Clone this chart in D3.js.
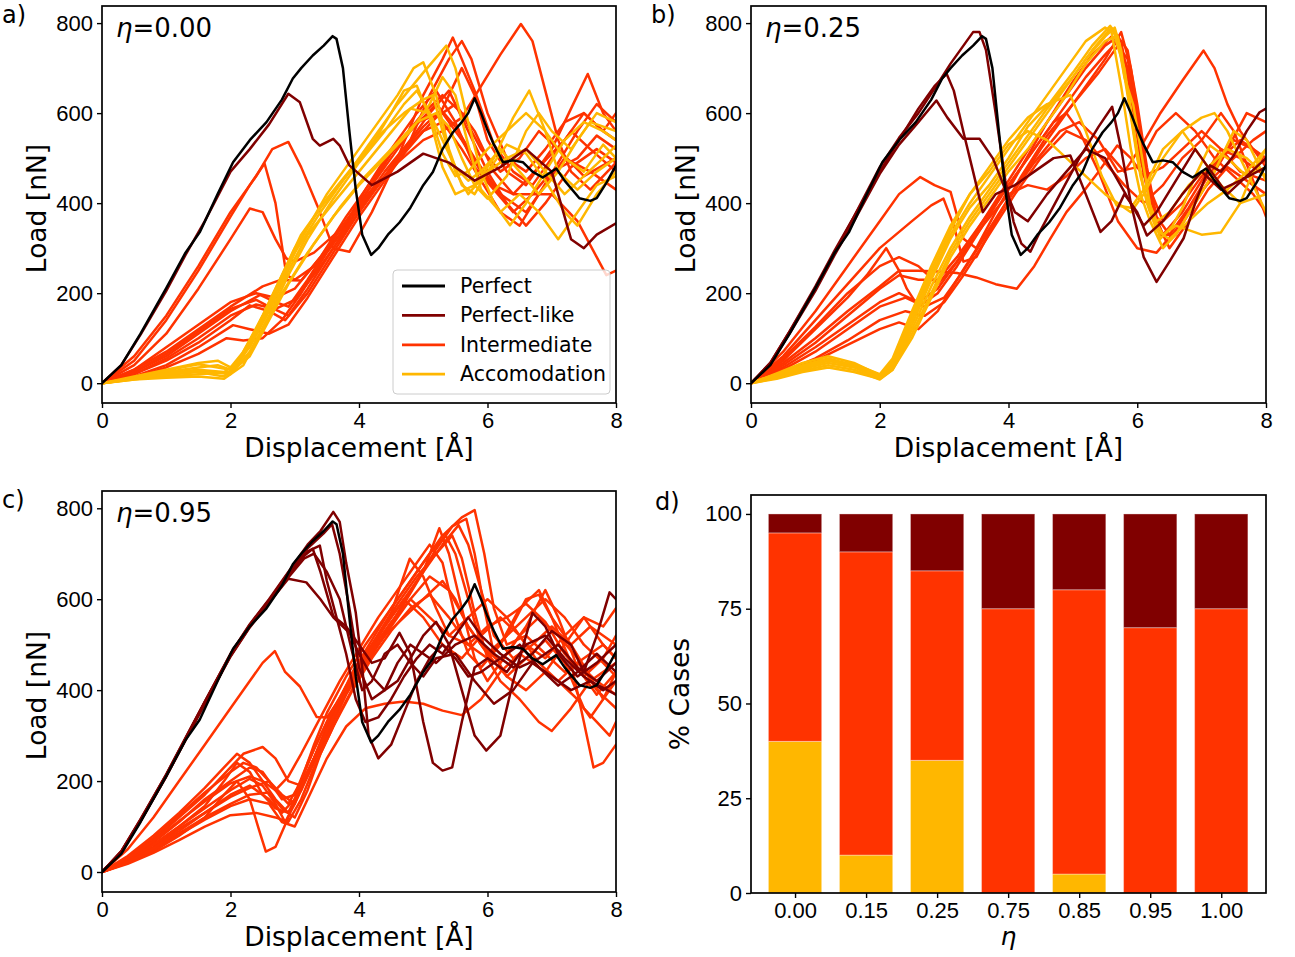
<!DOCTYPE html>
<html lang="en">
<head>
<meta charset="UTF-8">
<title>Load vs displacement, η panels</title>
<script src="https://d3js.org/d3.v7.min.js"></script>
<style>
  body { margin: 0; background: #fff; }
  svg { font-family: "DejaVu Sans", sans-serif; }
  .tick text { font-size: 22px; fill: #000; }
  .tick line { stroke: #000; stroke-width: 1.4; }
  .domain { display: none; }
</style>
</head>
<body>
<script>
// ---- data ----
const dispTicks = [0, 2, 4, 6, 8];
const loadTicks = [0, 200, 400, 600, 800];
const legendNames = ["Perfect", "Perfect-like", "Intermediate", "Accomodation"];
const colors = ["#000000", "#800000", "#ff3300", "#ffb700"];

// reference (perfect) curve, same in all line panels
const perfect = [[0,0],[0.3,40],[0.6,110],[1.0,211],[1.3,290],[1.52,335],[1.8,420],[2.04,491],[2.3,540],[2.56,580],[2.8,630],[2.97,677],[3.1,700],[3.28,728],[3.45,750],[3.59,771],[3.65,765],[3.75,700],[3.85,560],[3.95,430],[4.05,330],[4.19,285],[4.3,300],[4.45,330],[4.63,357],[4.8,390],[5.0,440],[5.15,469],[5.3,520],[5.46,557],[5.6,580],[5.7,600],[5.8,633],[5.9,600],[5.99,566],[6.1,530],[6.24,491],[6.4,495],[6.55,491],[6.7,470],[6.86,457],[7.07,477],[7.2,450],[7.43,411],[7.6,405],[7.7,411],[7.85,445],[8.0,484]];

// panel a) eta = 0.00
const aPerfectLike = [
  [[0,0],[0.3,40],[0.6,108],[1.0,205],[1.3,285],[1.6,360],[2.0,470],[2.3,520],[2.6,575],[2.9,643],[3.08,624],[3.28,543],[3.39,528],[3.6,543],[3.7,528],[3.85,484],[4.2,440],[4.6,470],[5.0,510],[5.4,490],[5.8,450],[6.2,480],[6.6,520],[7.0,470],[7.3,320],[7.5,300],[7.7,330],[8.0,355]]
];
const aIntermediate = [
  [[0,0],[0.5,60],[1.0,150],[1.5,260],[2.0,380],[2.4,460],[2.65,520],[2.9,536],[3.1,480],[3.35,395],[3.6,300],[3.85,292],[4.2,380],[4.6,500],[5.0,640],[5.3,720],[5.46,768],[5.6,720],[5.8,650],[6.1,530],[6.4,470],[6.7,440],[7.0,500],[7.3,560],[7.6,520],[8.0,470]],
  [[0,0],[0.5,50],[1.0,140],[1.5,250],[2.0,370],[2.3,440],[2.53,488],[2.7,400],[2.87,240],[3.0,230],[3.3,260],[3.7,330],[4.1,430],[4.5,520],[4.9,600],[5.2,650],[5.5,580],[5.8,480],[6.1,430],[6.4,380],[6.7,420],[7.0,470],[7.4,500],[7.7,550],[8.0,520]],
  [[0,0],[0.5,40],[1.0,110],[1.5,210],[2.0,320],[2.3,388],[2.5,380],[2.7,320],[2.87,277],[3.0,270],[3.3,290],[3.7,340],[4.1,420],[4.5,510],[4.9,580],[5.3,600],[5.6,540],[5.9,470],[6.2,420],[6.6,380],[6.9,440],[7.2,500],[7.6,470],[8.0,430]],
  [[0,0],[0.5,30],[1.0,70],[1.5,120],[2.0,170],[2.5,215],[2.77,229],[3.1,228],[3.4,280],[3.8,370],[4.2,450],[4.6,530],[5.0,600],[5.3,640],[5.6,600],[5.9,520],[6.2,470],[6.5,500],[6.8,560],[7.1,520],[7.5,460],[8.0,500]],
  [[0,0],[0.5,25],[1.0,60],[1.5,110],[2.0,160],[2.46,196],[2.7,180],[2.9,170],[3.2,230],[3.6,320],[4.0,400],[4.4,480],[4.8,560],[5.2,620],[5.5,570],[5.8,500],[6.1,440],[6.4,420],[6.8,480],[7.2,540],[7.5,600],[7.8,560],[8.0,540]],
  [[0,0],[0.5,20],[1.0,50],[1.5,90],[2.0,140],[2.3,173],[2.6,160],[2.85,140],[3.2,200],[3.6,290],[4.0,380],[4.4,460],[4.8,540],[5.1,600],[5.4,650],[5.7,560],[6.0,470],[6.3,400],[6.6,350],[6.9,400],[7.3,480],[7.7,520],[8.0,490]],
  [[0,0],[0.5,15],[1.0,40],[1.5,80],[2.04,129],[2.3,120],[2.6,110],[2.9,130],[3.2,190],[3.6,280],[4.0,370],[4.4,450],[4.8,530],[5.2,590],[5.5,620],[5.8,560],[6.1,470],[6.4,420],[7.0,420],[7.4,360],[7.7,280],[7.85,240],[8.0,250]],
  [[0,0],[0.5,12],[1.0,35],[1.5,65],[1.94,100],[2.2,95],[2.5,100],[2.8,140],[3.1,200],[3.5,290],[3.9,370],[4.3,440],[4.7,510],[5.0,560],[5.3,580],[5.6,520],[5.9,450],[6.2,380],[6.5,350],[6.8,420],[7.1,490],[7.4,560],[7.7,620],[8.0,580]],
  [[0,0],[0.5,30],[1.0,80],[1.5,130],[2.0,180],[2.4,200],[2.7,190],[3.0,210],[3.4,280],[3.8,360],[4.2,430],[4.6,490],[5.0,540],[5.3,560],[5.6,590],[5.9,660],[6.2,730],[6.52,798],[6.7,760],[6.9,650],[7.1,540],[7.3,470],[7.6,430],[8.0,490]],
  [[0,0],[0.5,20],[1.0,55],[1.5,100],[2.0,150],[2.4,175],[2.7,165],[3.0,185],[3.4,260],[3.8,340],[4.2,420],[4.6,500],[5.0,570],[5.3,610],[5.6,700],[5.8,640],[6.0,540],[6.3,470],[6.6,440],[7.0,520],[7.3,610],[7.56,687],[7.8,600],[8.0,560]],
  [[0,0],[0.5,25],[1.0,65],[1.5,115],[2.0,165],[2.4,185],[2.6,170],[2.9,150],[3.2,210],[3.6,300],[4.0,390],[4.4,470],[4.8,540],[5.1,640],[5.4,720],[5.6,760],[5.75,720],[6.0,600],[6.3,500],[6.6,470],[6.9,520],[7.2,580],[7.5,600],[7.8,560],[8.0,600]]
];
const aAccomodation = [
  [[0,0],[0.5,10],[1.0,25],[1.5,35],[1.8,40],[2.0,30],[2.2,60],[2.5,140],[2.8,230],[3.1,320],[3.5,420],[3.9,500],[4.3,580],[4.6,640],[4.85,700],[5.0,713],[5.2,640],[5.4,520],[5.6,440],[5.8,420],[6.0,470],[6.3,500],[6.6,520],[6.9,470],[7.2,420],[7.5,460],[7.8,500],[8.0,528]],
  [[0,0],[0.5,8],[1.0,18],[1.5,25],[1.9,15],[2.1,40],[2.4,110],[2.7,200],[3.0,290],[3.4,380],[3.8,460],[4.2,540],[4.6,620],[5.0,690],[5.36,750],[5.5,700],[5.7,580],[5.9,470],[6.1,400],[6.35,351],[6.6,400],[6.9,470],[7.2,540],[7.5,580],[7.8,560],[8.0,540]],
  [[0,0],[0.5,12],[1.0,22],[1.5,30],[1.9,25],[2.1,45],[2.4,120],[2.7,210],[3.0,300],[3.4,390],[3.8,460],[4.2,530],[4.5,600],[4.7,650],[4.9,661],[5.1,590],[5.3,480],[5.5,420],[5.8,440],[6.1,500],[6.4,590],[6.65,650],[6.9,560],[7.1,470],[7.4,430],[7.7,470],[8.0,500]],
  [[0,0],[0.5,15],[1.0,30],[1.5,45],[1.8,50],[2.0,35],[2.2,70],[2.5,150],[2.8,240],[3.1,330],[3.5,410],[3.9,480],[4.3,550],[4.7,600],[5.0,630],[5.15,640],[5.3,560],[5.5,470],[5.7,420],[6.0,470],[6.3,530],[6.6,510],[6.9,450],[7.2,380],[7.4,350],[7.7,420],[8.0,470]],
  [[0,0],[0.5,10],[1.0,15],[1.5,20],[2.0,25],[2.3,60],[2.6,140],[2.9,220],[3.3,310],[3.7,390],[4.1,460],[4.5,520],[4.9,580],[5.2,600],[5.4,570],[5.6,500],[5.8,440],[6.0,410],[6.3,460],[6.6,560],[6.8,600],[7.0,560],[7.3,520],[7.6,580],[8.0,560]],
  [[0,0],[0.5,8],[1.0,12],[1.5,15],[1.9,10],[2.2,40],[2.5,120],[2.8,200],[3.2,290],[3.6,370],[4.0,440],[4.4,500],[4.8,560],[5.1,620],[5.3,680],[5.5,640],[5.7,530],[5.9,430],[6.2,380],[6.5,420],[6.8,380],[7.1,320],[7.4,380],[7.7,440],[8.0,460]],
  [[0,0],[0.5,12],[1.0,28],[1.5,42],[1.8,35],[2.0,30],[2.3,80],[2.6,160],[2.9,250],[3.2,330],[3.6,400],[4.0,470],[4.4,540],[4.8,610],[5.1,600],[5.3,540],[5.5,480],[5.7,450],[5.9,470],[6.2,520],[6.5,470],[6.8,420],[7.1,470],[7.4,540],[7.7,600],[8.0,580]],
  [[0,0],[0.5,10],[1.0,20],[1.5,28],[2.0,20],[2.3,70],[2.6,150],[2.9,240],[3.2,320],[3.6,410],[4.0,490],[4.4,560],[4.7,620],[4.9,650],[5.1,600],[5.3,510],[5.5,460],[5.7,470],[6.0,520],[6.3,560],[6.6,600],[6.9,560],[7.2,500],[7.5,470],[7.8,530],[8.0,500]]
];

// panel b) eta = 0.25
const bPerfectLike = [
  [[0,0],[0.3,45],[0.6,115],[1.0,215],[1.3,295],[1.6,370],[2.0,480],[2.3,545],[2.6,600],[2.9,665],[3.1,710],[3.3,750],[3.45,780],[3.55,780],[3.65,740],[3.8,600],[3.95,450],[4.08,358],[4.2,310],[4.34,292],[4.5,340],[4.8,420],[5.1,500],[5.4,570],[5.61,614],[5.75,520],[5.9,400],[6.1,280],[6.3,225],[6.5,270],[6.72,322],[6.9,400],[7.13,484],[7.3,470],[7.5,506],[7.7,560],[7.9,602],[8.0,610]],
  [[0,0],[0.3,45],[0.6,115],[1.0,210],[1.3,290],[1.6,370],[2.0,470],[2.3,540],[2.6,610],[2.85,660],[3.04,687],[3.15,650],[3.3,558],[3.45,470],[3.6,380],[3.8,420],[4.1,440],[4.4,470],[4.7,500],[4.96,506],[5.2,420],[5.43,336],[5.6,360],[5.8,420],[6.0,380],[6.15,328],[6.4,360],[6.7,420],[7.0,470],[7.3,430],[7.6,450],[8.0,480]],
  [[0,0],[0.3,42],[0.6,110],[1.0,205],[1.3,285],[1.6,360],[2.0,465],[2.3,530],[2.6,580],[2.88,628],[3.05,590],[3.3,543],[3.55,543],[3.76,499],[3.95,430],[4.1,380],[4.3,360],[4.6,420],[4.9,470],[5.2,520],[5.5,500],[5.7,450],[5.9,400],[6.1,350],[6.3,380],[6.6,450],[6.9,520],[7.1,480],[7.4,420],[7.7,460],[8.0,500]]
];
const bIntermediate = [
  [[0,0],[0.5,70],[1.0,160],[1.5,260],[2.0,360],[2.3,420],[2.63,458],[2.85,440],[3.1,425],[3.3,321],[3.5,300],[3.8,380],[4.2,480],[4.6,580],[5.0,670],[5.3,730],[5.6,770],[5.75,760],[5.9,640],[6.05,500],[6.2,400],[6.4,330],[6.7,380],[7.0,450],[7.3,520],[7.6,500],[8.0,460]],
  [[0,0],[0.5,60],[1.0,140],[1.5,220],[2.0,300],[2.5,360],[2.8,395],[2.99,410],[3.15,350],[3.3,270],[3.5,280],[3.8,360],[4.2,460],[4.6,550],[5.0,620],[5.4,690],[5.7,750],[5.85,720],[6.0,600],[6.15,460],[6.3,360],[6.5,300],[6.8,360],[7.1,430],[7.4,480],[7.7,450],[8.0,420]],
  [[0,0],[0.5,50],[1.0,120],[1.5,190],[1.8,240],[2.1,300],[2.3,250],[2.42,210],[2.6,170],[2.9,200],[3.2,260],[3.6,350],[4.0,440],[4.4,520],[4.8,600],[5.2,680],[5.5,730],[5.7,760],[5.85,700],[6.0,580],[6.2,430],[6.4,360],[6.7,400],[7.0,460],[7.3,500],[7.6,540],[8.0,500]],
  [[0,0],[0.5,45],[1.0,100],[1.5,160],[2.0,215],[2.3,250],[2.6,250],[2.9,248],[3.2,245],[3.5,235],[3.8,220],[4.13,210],[4.4,260],[4.65,321],[4.9,380],[5.16,425],[5.4,470],[5.69,528],[5.9,500],[6.1,460],[6.4,480],[6.7,520],[7.0,560],[7.3,520],[7.6,470],[8.0,450]],
  [[0,0],[0.5,35],[1.0,80],[1.5,130],[2.0,180],[2.3,200],[2.6,180],[2.9,210],[3.2,270],[3.6,350],[4.0,420],[4.3,440],[4.6,430],[4.9,460],[5.2,500],[5.5,520],[5.8,470],[6.05,524],[6.35,598],[6.7,672],[7.03,739],[7.2,700],[7.4,620],[7.6,560],[7.8,520],[8.0,490]],
  [[0,0],[0.5,30],[1.0,70],[1.5,120],[2.0,170],[2.4,190],[2.7,170],[3.0,190],[3.3,250],[3.7,340],[4.1,430],[4.5,520],[4.9,600],[5.2,660],[5.5,720],[5.75,780],[5.9,700],[6.05,560],[6.2,420],[6.35,330],[6.6,330],[6.9,400],[7.2,470],[7.5,540],[7.8,520],[8.0,480]],
  [[0,0],[0.5,25],[1.0,55],[1.5,95],[2.0,140],[2.4,160],[2.7,150],[3.0,180],[3.3,240],[3.7,330],[4.1,420],[4.5,500],[4.9,560],[5.2,540],[5.5,490],[5.8,440],[6.1,400],[6.4,440],[6.7,500],[7.0,540],[7.3,600],[7.5,560],[7.8,450],[8.0,370]],
  [[0,0],[0.5,40],[1.0,90],[1.5,150],[2.0,210],[2.3,240],[2.6,230],[2.9,230],[3.2,280],[3.6,360],[4.0,440],[4.4,520],[4.7,580],[4.9,600],[5.1,560],[5.4,470],[5.7,360],[6.0,300],[6.3,290],[6.6,340],[6.9,410],[7.2,460],[7.5,500],[7.8,540],[8.0,560]],
  [[0,0],[0.5,55],[1.0,125],[1.5,200],[2.0,260],[2.3,280],[2.6,260],[2.9,220],[3.2,270],[3.6,360],[4.0,450],[4.4,540],[4.8,620],[5.2,700],[5.5,750],[5.7,770],[5.85,740],[6.0,620],[6.15,480],[6.3,370],[6.5,330],[6.8,390],[7.1,460],[7.4,520],[7.7,600],[8.0,580]],
  [[0,0],[0.5,20],[1.0,50],[1.5,85],[2.0,120],[2.3,135],[2.6,120],[2.9,160],[3.2,230],[3.6,320],[4.0,410],[4.4,490],[4.8,560],[5.1,580],[5.4,540],[5.7,470],[6.0,480],[6.3,560],[6.6,600],[6.9,560],[7.2,500],[7.5,460],[7.8,420],[8.0,380]]
];
const bAccomodation = [
  [[0,0],[0.4,20],[0.8,40],[1.2,55],[1.6,40],[2.0,15],[2.2,40],[2.5,130],[2.8,230],[3.1,321],[3.4,390],[3.7,440],[4.0,500],[4.3,570],[4.65,624],[5.0,690],[5.3,750],[5.58,794],[5.7,760],[5.8,680],[5.94,617],[6.1,480],[6.2,395],[6.36,321],[6.55,350],[6.72,395],[6.9,460],[7.13,528],[7.4,500],[7.7,460],[8.0,480]],
  [[0,0],[0.4,15],[0.8,32],[1.2,45],[1.6,35],[2.0,10],[2.2,35],[2.5,120],[2.8,215],[3.1,300],[3.4,370],[3.7,430],[4.0,490],[4.3,550],[4.6,610],[5.0,680],[5.3,740],[5.6,790],[5.7,770],[5.85,640],[6.0,500],[6.15,400],[6.3,340],[6.5,320],[6.8,360],[7.1,400],[7.4,430],[7.7,470],[8.0,520]],
  [[0,0],[0.4,18],[0.8,38],[1.2,50],[1.6,38],[2.0,12],[2.2,50],[2.5,150],[2.8,250],[3.1,340],[3.4,420],[3.7,480],[4.0,540],[4.3,590],[4.6,620],[4.96,640],[5.2,560],[5.45,460],[5.68,395],[5.9,390],[6.1,430],[6.4,520],[6.7,560],[7.0,500],[7.3,440],[7.6,400],[8.0,420]],
  [[0,0],[0.4,12],[0.8,28],[1.2,40],[1.6,30],[2.0,8],[2.2,30],[2.5,110],[2.8,200],[3.1,290],[3.4,360],[3.7,420],[4.0,480],[4.3,540],[4.6,600],[4.9,660],[5.2,720],[5.5,770],[5.65,790],[5.75,740],[5.9,600],[6.05,460],[6.2,380],[6.4,330],[6.6,350],[6.8,340],[7.0,330],[7.3,335],[7.6,400],[7.8,470],[8.0,520]],
  [[0,0],[0.4,22],[0.8,45],[1.2,60],[1.6,45],[2.0,18],[2.2,45],[2.5,140],[2.8,240],[3.1,330],[3.4,400],[3.7,460],[4.0,520],[4.3,580],[4.6,640],[4.9,700],[5.2,760],[5.5,790],[5.6,780],[5.75,660],[5.9,520],[6.05,420],[6.2,360],[6.4,300],[6.6,330],[6.9,400],[7.2,470],[7.5,560],[7.7,540],[8.0,450]],
  [[0,0],[0.4,10],[0.8,25],[1.2,35],[1.6,25],[2.0,10],[2.2,30],[2.5,100],[2.8,190],[3.1,280],[3.4,350],[3.7,410],[4.0,470],[4.3,520],[4.6,580],[4.9,640],[5.2,710],[5.5,760],[5.65,770],[5.8,700],[5.95,560],[6.1,430],[6.3,360],[6.5,380],[6.8,440],[7.1,480],[7.4,520],[7.7,500],[8.0,460]],
  [[0,0],[0.4,20],[0.8,35],[1.2,50],[1.6,42],[2.0,20],[2.2,55],[2.5,160],[2.8,260],[3.1,350],[3.4,420],[3.7,470],[4.0,530],[4.3,560],[4.6,540],[4.9,500],[5.2,460],[5.5,420],[5.7,400],[5.9,380],[6.1,420],[6.4,500],[6.7,560],[7.0,590],[7.2,600],[7.4,560],[7.7,470],[8.0,380]]
];

// panel c) eta = 0.95
const cPerfectLike = [
  [[0,0],[0.3,45],[0.6,115],[1.0,215],[1.3,295],[1.6,375],[2.0,480],[2.3,545],[2.6,600],[2.9,660],[3.2,720],[3.4,750],[3.6,792],[3.7,770],[3.8,680],[3.95,570],[4.05,450],[4.15,300],[4.3,250],[4.5,280],[4.7,350],[4.9,420],[5.1,470],[5.3,500],[5.5,470],[5.7,430],[5.9,440],[6.2,470],[6.5,500],[6.8,450],[7.1,410],[7.4,440],[7.7,480],[8.0,440]],
  [[0,0],[0.3,44],[0.6,113],[1.0,212],[1.3,292],[1.6,372],[2.0,476],[2.3,540],[2.6,595],[2.9,650],[3.1,690],[3.28,711],[3.4,660],[3.6,563],[3.8,540],[4.0,500],[4.2,460],[4.4,470],[4.63,526],[4.8,480],[5.0,330],[5.15,240],[5.3,223],[5.45,230],[5.6,330],[5.8,450],[6.0,470],[6.3,440],[6.6,500],[6.9,520],[7.2,470],[7.5,430],[7.8,400],[8.0,420]],
  [[0,0],[0.3,43],[0.6,112],[1.0,210],[1.3,290],[1.6,370],[2.0,474],[2.3,538],[2.6,592],[2.9,645],[3.18,637],[3.4,600],[3.6,560],[3.85,526],[4.0,480],[4.2,430],[4.4,400],[4.6,420],[4.8,470],[5.0,520],[5.2,550],[5.4,500],[5.6,400],[5.8,300],[5.98,267],[6.2,300],[6.4,420],[6.7,570],[6.9,540],[7.1,480],[7.4,430],[7.7,460],[8.0,500]],
  [[0,0],[0.3,45],[0.6,114],[1.0,213],[1.3,293],[1.6,373],[2.0,478],[2.3,542],[2.6,597],[2.9,655],[3.2,705],[3.39,718],[3.5,640],[3.65,560],[3.8,480],[3.95,380],[4.1,330],[4.3,340],[4.5,380],[4.7,430],[4.9,470],[5.1,500],[5.3,480],[5.5,520],[5.7,560],[5.9,520],[6.2,480],[6.5,450],[6.8,470],[7.1,500],[7.4,450],[7.7,420],[8.0,460]],
  [[0,0],[0.3,46],[0.6,116],[1.0,214],[1.3,294],[1.6,374],[2.0,479],[2.3,544],[2.6,598],[2.9,658],[3.2,712],[3.45,745],[3.58,765],[3.7,700],[3.85,580],[4.0,450],[4.2,380],[4.4,400],[4.6,460],[4.8,500],[5.0,480],[5.2,460],[5.5,500],[5.8,520],[6.1,480],[6.4,450],[6.7,480],[7.0,530],[7.3,500],[7.5,440],[7.7,520],[7.9,615],[8.0,600]],
  [[0,0],[0.3,44],[0.6,112],[1.0,211],[1.3,291],[1.6,371],[2.0,475],[2.3,540],[2.6,594],[2.9,648],[3.15,690],[3.3,700],[3.5,660],[3.7,600],[3.9,480],[4.05,400],[4.2,420],[4.4,480],[4.6,500],[4.8,460],[5.0,430],[5.2,470],[5.5,480],[5.8,420],[6.1,370],[6.4,400],[6.7,460],[7.0,430],[7.3,400],[7.6,420],[8.0,390]]
];
const cIntermediate = [
  [[0,0],[0.4,50],[0.8,120],[1.2,200],[1.6,280],[2.0,360],[2.3,420],[2.5,460],[2.69,486],[2.85,440],[3.08,408],[3.34,341],[3.5,340],[3.7,380],[3.9,420],[4.2,480],[4.5,540],[4.8,600],[5.1,650],[5.4,620],[5.7,540],[6.0,480],[6.3,520],[6.6,560],[6.9,600],[7.2,560],[7.5,500],[7.8,460],[8.0,430]],
  [[0,0],[0.4,30],[0.8,70],[1.2,120],[1.6,170],[2.0,230],[2.2,260],[2.5,275],[2.7,250],[2.9,200],[3.1,190],[3.3,250],[3.5,320],[3.7,380],[3.9,440],[4.2,510],[4.5,580],[4.8,640],[5.1,700],[5.35,740],[5.5,700],[5.7,600],[5.9,500],[6.2,460],[6.5,520],[6.8,560],[7.1,520],[7.4,470],[7.7,400],[8.0,360]],
  [[0,0],[0.4,25],[0.8,60],[1.2,100],[1.6,145],[1.9,200],[2.1,240],[2.3,220],[2.5,170],[2.7,140],[2.9,130],[3.1,180],[3.3,250],[3.5,320],[3.8,400],[4.1,470],[4.4,540],[4.7,600],[5.0,660],[5.3,720],[5.55,763],[5.7,720],[5.9,620],[6.1,520],[6.4,470],[6.7,500],[7.0,540],[7.3,500],[7.6,430],[7.8,380],[8.0,420]],
  [[0,0],[0.4,20],[0.8,45],[1.2,80],[1.6,120],[1.9,170],[2.1,200],[2.3,160],[2.45,90],[2.55,45],[2.7,55],[2.9,120],[3.1,200],[3.3,280],[3.5,350],[3.8,430],[4.1,500],[4.4,560],[4.7,620],[5.0,680],[5.3,740],[5.6,780],[5.8,796],[5.95,700],[6.1,580],[6.3,500],[6.6,520],[6.9,480],[7.2,440],[7.5,470],[7.8,500],[8.0,470]],
  [[0,0],[0.4,22],[0.8,50],[1.2,85],[1.6,120],[2.0,150],[2.3,170],[2.6,175],[2.8,140],[3.0,120],[3.2,180],[3.4,260],[3.7,350],[4.0,430],[4.3,500],[4.6,570],[4.9,640],[5.2,710],[5.45,760],[5.67,777],[5.8,700],[5.95,580],[6.1,480],[6.3,430],[6.6,470],[6.9,510],[7.2,460],[7.5,360],[7.7,330],[7.9,300],[8.0,330]],
  [[0,0],[0.4,28],[0.8,65],[1.2,110],[1.6,160],[2.0,200],[2.3,230],[2.5,220],[2.7,180],[2.9,150],[3.1,200],[3.3,270],[3.6,360],[3.9,430],[4.2,500],[4.5,570],[4.79,689],[5.0,650],[5.2,580],[5.4,520],[5.7,500],[6.0,540],[6.3,560],[6.6,590],[6.9,550],[7.2,480],[7.5,430],[7.8,470],[8.0,520]],
  [[0,0],[0.4,24],[0.8,55],[1.2,95],[1.6,130],[2.0,165],[2.3,185],[2.6,200],[2.8,170],[3.0,150],[3.2,210],[3.5,300],[3.8,390],[4.1,460],[4.4,520],[4.7,590],[5.0,660],[5.25,756],[5.4,700],[5.6,580],[5.8,470],[6.0,420],[6.3,480],[6.6,540],[6.9,620],[7.1,560],[7.4,450],[7.7,390],[8.0,440]],
  [[0,0],[0.4,32],[0.8,75],[1.2,125],[1.6,175],[2.0,220],[2.2,240],[2.4,230],[2.6,200],[2.8,160],[3.0,170],[3.2,240],[3.5,330],[3.8,410],[4.1,480],[4.4,540],[4.7,600],[5.0,560],[5.3,500],[5.6,470],[5.9,520],[6.2,560],[6.5,520],[6.8,460],[7.1,420],[7.4,380],[7.6,340],[7.8,380],[8.0,440]],
  [[0,0],[0.4,18],[0.8,42],[1.2,70],[1.6,100],[2.0,125],[2.4,130],[2.7,120],[2.9,110],[3.1,160],[3.3,230],[3.6,320],[3.9,400],[4.2,470],[4.5,530],[4.8,580],[5.1,610],[5.4,560],[5.7,500],[6.0,470],[6.3,520],[6.6,600],[6.8,610],[7.0,560],[7.3,500],[7.6,540],[8.0,500]],
  [[0,0],[0.4,26],[0.8,60],[1.2,100],[1.6,140],[2.0,180],[2.3,205],[2.5,190],[2.7,150],[2.85,110],[3.0,150],[3.2,220],[3.5,310],[3.8,400],[4.1,470],[4.4,520],[4.7,560],[5.0,600],[5.3,640],[5.5,600],[5.7,540],[6.0,480],[6.3,430],[6.6,400],[6.9,440],[7.2,500],[7.5,560],[7.8,540],[8.0,580]],
  [[0,0],[0.4,20],[0.8,48],[1.2,82],[1.6,115],[2.0,145],[2.3,160],[2.6,150],[2.8,110],[3.0,100],[3.2,160],[3.5,250],[3.8,320],[4.1,360],[4.4,370],[4.7,375],[5.0,370],[5.3,355],[5.6,345],[5.9,380],[6.2,440],[6.5,480],[6.8,450],[7.1,420],[7.4,460],[7.7,420],[8.0,390]],
  [[0,0],[0.4,35],[0.8,80],[1.2,130],[1.6,185],[1.9,230],[2.1,260],[2.3,240],[2.5,200],[2.7,180],[2.9,210],[3.1,260],[3.4,340],[3.7,420],[4.0,490],[4.3,560],[4.6,620],[4.9,680],[5.1,720],[5.3,680],[5.5,560],[5.7,480],[5.9,450],[6.2,500],[6.5,580],[6.8,620],[7.0,560],[7.3,460],[7.5,330],[7.65,230],[7.8,240],[8.0,280]],
  [[0,0],[0.4,22],[0.8,52],[1.2,90],[1.6,130],[2.0,170],[2.3,190],[2.6,160],[2.8,130],[3.0,160],[3.3,250],[3.6,340],[3.9,420],[4.2,490],[4.5,550],[4.8,600],[5.1,560],[5.4,520],[5.7,560],[6.0,600],[6.3,560],[6.6,500],[6.9,470],[7.2,520],[7.5,560],[7.8,500],[8.0,470]],
  [[0,0],[0.4,30],[0.8,68],[1.2,112],[1.6,155],[2.0,195],[2.3,210],[2.5,200],[2.7,160],[2.9,130],[3.1,190],[3.4,280],[3.7,370],[4.0,450],[4.3,520],[4.6,590],[4.9,650],[5.2,700],[5.45,740],[5.6,690],[5.8,570],[6.0,470],[6.2,420],[6.5,380],[6.8,330],[7.0,310],[7.3,360],[7.6,420],[8.0,460]]
];
const cAccomodation = [];

// panel d) stacked bars, % of cases
const etaLabels = ["0.00", "0.15", "0.25", "0.75", "0.85", "0.95", "1.00"];
const pctAccomodation = [40, 10, 35, 0, 5, 0, 0];
const pctIntermediate = [55, 80, 50, 75, 75, 70, 75];
const pctPerfectLike = [5, 10, 15, 25, 20, 30, 25];
const pctTicks = [0, 25, 50, 75, 100];

// ---- drawing ----
const svg = d3.select("body").append("svg")
    .attr("width", 1295)
    .attr("height", 957);

function frame(g, x0, y0, x1, y1) {
    g.append("rect")
        .attr("x", x0).attr("y", y0)
        .attr("width", x1 - x0).attr("height", y1 - y0)
        .attr("fill", "none")
        .attr("stroke", "#000")
        .attr("stroke-width", 1.7);
}

function linePanel(p) {
    const x = d3.scaleLinear().domain([0, 8]).range([p.left, p.right]);
    const y = d3.scaleLinear().domain([-44, 838]).range([p.bottom, p.top]);
    const g = svg.append("g");

    const clipId = "clip-" + p.id;
    g.append("clipPath").attr("id", clipId)
      .append("rect")
        .attr("x", p.left).attr("y", p.top)
        .attr("width", p.right - p.left).attr("height", p.bottom - p.top);

    const line = d3.line().x(d => x(d[0])).y(d => y(d[1]));
    const lines = g.append("g").attr("clip-path", `url(#${clipId})`)
        .attr("fill", "none")
        .attr("stroke-width", 2.5)
        .attr("stroke-linejoin", "round")
        .attr("stroke-linecap", "round");

    const groups = [[p.intermediate, colors[2]], [p.accomodation, colors[3]], [p.perfectLike, colors[1]], [[perfect], colors[0]]];
    groups.forEach(([set, c]) => {
        lines.selectAll(null).data(set).enter().append("path")
            .attr("d", line)
            .attr("stroke", c);
    });

    // axes
    g.append("g")
        .attr("transform", `translate(0,${p.bottom})`)
        .call(d3.axisBottom(x).tickValues(dispTicks).tickSize(5).tickPadding(4).tickFormat(d3.format("d")));
    g.append("g")
        .attr("transform", `translate(${p.left},0)`)
        .call(d3.axisLeft(y).tickValues(loadTicks).tickSize(5).tickPadding(4).tickFormat(d3.format("d")));
    frame(g, p.left, p.top, p.right, p.bottom);

    // labels
    g.append("text")
        .attr("x", (p.left + p.right) / 2).attr("y", p.bottom + 54)
        .attr("text-anchor", "middle").attr("font-size", 26.5)
        .text("Displacement [Å]");
    g.append("text")
        .attr("transform", `translate(${p.left - 56},${(p.top + p.bottom) / 2 + 4}) rotate(-90)`)
        .attr("text-anchor", "middle").attr("font-size", 26.5)
        .text("Load [nN]");
    const ann = g.append("text")
        .attr("x", p.left + 14).attr("y", p.top + 31)
        .attr("font-size", 26);
    ann.append("tspan").attr("font-style", "italic").text("η");
    ann.append("tspan").text("=" + p.eta);
    g.append("text")
        .attr("x", p.left - 100).attr("y", p.top + 17)
        .attr("font-size", 24)
        .text(p.id + ")");
    return g;
}

linePanel({id: "a", eta: "0.00", left: 102, right: 616, top: 6, bottom: 403,
    perfectLike: aPerfectLike, intermediate: aIntermediate, accomodation: aAccomodation});
linePanel({id: "b", eta: "0.25", left: 751, right: 1266, top: 6, bottom: 403,
    perfectLike: bPerfectLike, intermediate: bIntermediate, accomodation: bAccomodation});
linePanel({id: "c", eta: "0.95", left: 102, right: 616, top: 491, bottom: 892,
    perfectLike: cPerfectLike, intermediate: cIntermediate, accomodation: cAccomodation});

// legend in panel a
const legend = svg.append("g");
legend.append("rect")
    .attr("x", 393).attr("y", 270).attr("width", 217).attr("height", 124)
    .attr("rx", 4)
    .attr("fill", "#fff").attr("fill-opacity", 0.8)
    .attr("stroke", "#cccccc").attr("stroke-width", 1);
legendNames.forEach((name, i) => {
    const yy = 286 + i * 29.4;
    legend.append("line")
        .attr("x1", 402).attr("x2", 445).attr("y1", yy).attr("y2", yy)
        .attr("stroke", colors[i]).attr("stroke-width", 2.8);
    legend.append("text")
        .attr("x", 460).attr("y", yy + 7)
        .attr("font-size", 20.5)
        .text(name);
});

// panel d) bar chart
const dp = {left: 751, right: 1266, top: 495, bottom: 893};
const xb = d3.scaleLinear().domain([-0.62, 6.63]).range([dp.left, dp.right]);
const yb = d3.scaleLinear().domain([0, 105]).range([dp.bottom, dp.top]);
const gd = svg.append("g");
const barW = xb(0.75) - xb(0);

const stackRows = etaLabels.map((e, i) => ({
    i: i,
    acc: pctAccomodation[i],
    inter: pctIntermediate[i],
    like: pctPerfectLike[i]
}));
const stack = d3.stack().keys(["acc", "inter", "like"])(stackRows);
const barColors = {acc: colors[3], inter: colors[2], like: colors[1]};

gd.selectAll("g.layer").data(stack).enter().append("g")
    .attr("class", "layer")
    .attr("fill", d => barColors[d.key])
  .selectAll("rect").data(d => d.filter(s => s[1] > s[0])).enter().append("rect")
    .attr("x", d => xb(d.data.i) - barW / 2)
    .attr("width", barW)
    .attr("y", d => yb(d[1]))
    .attr("height", d => yb(d[0]) - yb(d[1]))
    .attr("stroke", "#ffffff").attr("stroke-opacity", 0.35).attr("stroke-width", 1);

gd.append("g")
    .attr("transform", `translate(0,${dp.bottom})`)
    .call(d3.axisBottom(xb).tickValues(d3.range(etaLabels.length)).tickSize(5).tickPadding(4)
        .tickFormat(i => etaLabels[i]));
gd.append("g")
    .attr("transform", `translate(${dp.left},0)`)
    .call(d3.axisLeft(yb).tickValues(pctTicks).tickSize(5).tickPadding(4));
frame(gd, dp.left, dp.top, dp.right, dp.bottom);

gd.append("text")
    .attr("x", (dp.left + dp.right) / 2).attr("y", dp.bottom + 52)
    .attr("text-anchor", "middle").attr("font-size", 25)
    .attr("font-style", "italic")
    .text("η");
gd.append("text")
    .attr("transform", `translate(${dp.left - 62},${(dp.top + dp.bottom) / 2}) rotate(-90)`)
    .attr("text-anchor", "middle").attr("font-size", 26.5)
    .text("% Cases");
gd.append("text")
    .attr("x", dp.left - 96).attr("y", dp.top + 15)
    .attr("font-size", 24)
    .text("d)");
</script>
</body>
</html>
